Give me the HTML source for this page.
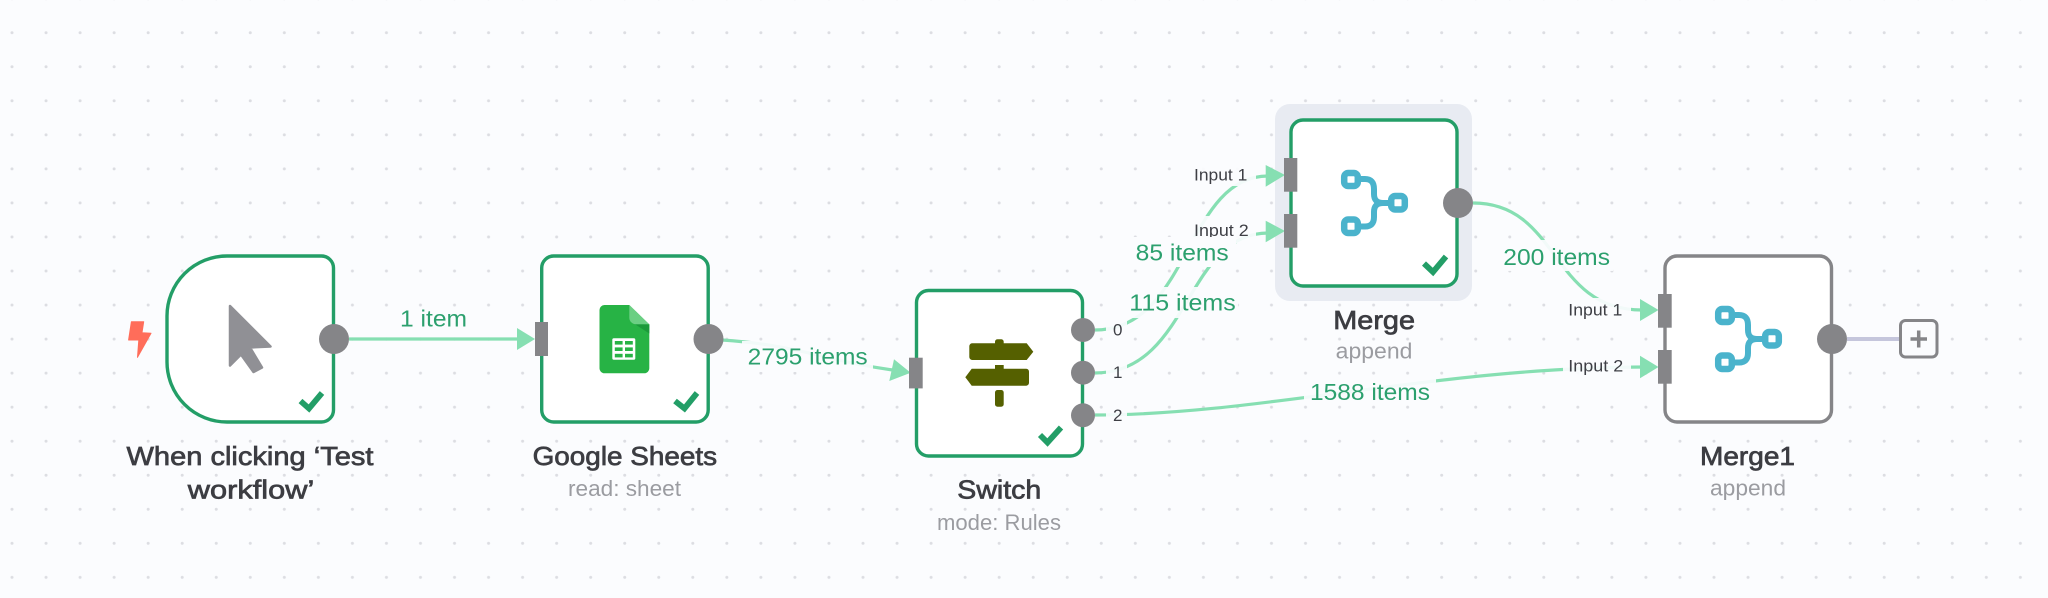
<!DOCTYPE html>
<html>
<head>
<meta charset="utf-8">
<title>Workflow</title>
<style>
html,body{margin:0;padding:0;width:2048px;height:598px;overflow:hidden;background:#fbfcfe}
svg{display:block}
text{font-family:"Liberation Sans",sans-serif}
.t{font-size:26px;font-weight:normal;fill:#3c3d42;stroke:#3c3d42;stroke-width:0.7px}
.s{font-size:22px;fill:#9b9ca1}
.e{font-size:23px;fill:#2ca06e}
.i{font-size:17px;fill:#3e3f45}
.bg{fill:#fbfcfe;fill-opacity:.93}
.edge{fill:none;stroke:#86dfb2;stroke-width:3.2}
.arrow{fill:#86dfb2}
.node{fill:#fff;stroke:#239e67;stroke-width:3.4}
.chk{fill:none;stroke:#239e67;stroke-width:5.8;stroke-linecap:butt;stroke-linejoin:miter}
.dot{fill:#858588}
.port{fill:#858588}
.mi{fill:#fff;stroke:#4ab3cc;stroke-width:6.5}
.ml{fill:none;stroke:#4ab3cc;stroke-width:6}
.sg{fill:#556000}
</style>
</head>
<body>
<svg width="2048" height="598" viewBox="0 0 2048 598" xmlns="http://www.w3.org/2000/svg">
<defs>
<pattern id="grid" x="-5" y="15.7" width="34.04" height="34.04" patternUnits="userSpaceOnUse">
<circle cx="17" cy="17" r="1.5" fill="#dcdde2"/>
</pattern>
<g id="mergeicon">
<path class="ml" d="M1735 315 H1739 Q1748 315 1748 325 V330 Q1748 339 1757 339 H1763"/>
<path class="ml" d="M1735 362.5 H1739 Q1748 362.5 1748 353 V348 Q1748 339 1757 339"/>
<rect class="mi" x="1718.2" y="309" width="13.6" height="13" rx="4"/>
<rect class="mi" x="1718.2" y="355.5" width="13.6" height="13.5" rx="4"/>
<rect class="mi" x="1765.2" y="332" width="13.6" height="13.5" rx="4"/>
</g>
</defs>
<rect width="2048" height="598" fill="#fbfcfe"/>
<rect width="2048" height="598" fill="url(#grid)"/>

<!-- highlight behind Merge -->
<rect x="1275" y="104" width="197" height="197" rx="15" fill="#e8ebf2"/>

<!-- edges -->
<path class="edge" d="M349 339 H522"/>
<path class="edge" d="M722 340 C800 345 830 362 893 370"/>
<path class="edge" d="M1095 330 C1190 330 1185 176 1268 176"/>
<path class="edge" d="M1095 373 C1190 373 1185 233 1268 233"/>
<path class="edge" d="M1095 415 C1260 415 1440 367 1645 367"/>
<path class="edge" d="M1473 203 C1560 203 1550 310 1642 310"/>
<path d="M1847 339 H1899" fill="none" stroke="#c5c6dc" stroke-width="4"/>

<!-- label backgrounds -->
<rect class="bg" x="742" y="341" width="131" height="31"/>
<rect class="bg" x="1106" y="317" width="21" height="23"/>
<rect class="bg" x="1106" y="361" width="21" height="24"/>
<rect class="bg" x="1106" y="405" width="21" height="22"/>
<rect class="bg" x="1190" y="160" width="66" height="26"/>
<rect class="bg" x="1190" y="216" width="66" height="27"/>
<rect class="bg" x="1563" y="298" width="68" height="26"/>
<rect class="bg" x="1563" y="355" width="68" height="25"/>
<rect class="bg" x="1500" y="240" width="113" height="31"/>
<rect class="bg" x="1304" y="378" width="132" height="27"/>
<rect class="bg" x="1127" y="287" width="111" height="31"/>

<!-- input labels (Input 2 clipped by the 85 items background) -->
<text class="i" x="1194" y="180.7" textLength="53.3" lengthAdjust="spacingAndGlyphs">Input 1</text>
<text class="i" x="1194" y="236" textLength="54.7" lengthAdjust="spacingAndGlyphs">Input 2</text>
<text class="i" x="1568.3" y="315.7" textLength="54" lengthAdjust="spacingAndGlyphs">Input 1</text>
<text class="i" x="1568.3" y="371.7" textLength="55" lengthAdjust="spacingAndGlyphs">Input 2</text>
<rect x="1133" y="237" width="103" height="30" fill="#fbfcfe"/>

<!-- edge labels -->
<text class="e" x="400" y="326.7" textLength="67" lengthAdjust="spacingAndGlyphs">1 item</text>
<text class="e" x="747.7" y="364.3" textLength="120" lengthAdjust="spacingAndGlyphs">2795 items</text>
<text class="e" x="1135.7" y="260.7" textLength="93" lengthAdjust="spacingAndGlyphs">85 items</text>
<text class="e" x="1129.3" y="310.7" textLength="106.4" lengthAdjust="spacingAndGlyphs">115 items</text>
<text class="e" x="1503.3" y="265" textLength="106.7" lengthAdjust="spacingAndGlyphs">200 items</text>
<text class="e" x="1310" y="400" textLength="120" lengthAdjust="spacingAndGlyphs">1588 items</text>
<text class="i" x="1113" y="335.7">0</text>
<text class="i" x="1113" y="378">1</text>
<text class="i" x="1113" y="421">2</text>

<!-- arrowheads -->
<polygon class="arrow" points="517,328 517,350 535,339"/>
<polygon class="arrow" points="894,359.3 889.3,381 910.7,372.7"/>
<polygon class="arrow" points="1265.7,165 1265.7,186.7 1285,175"/>
<polygon class="arrow" points="1265.7,220.7 1265.7,242.3 1285,231"/>
<polygon class="arrow" points="1640,299 1640,321 1658.5,310"/>
<polygon class="arrow" points="1640,355.7 1640,378.3 1658.5,367"/>

<!-- Trigger node -->
<path class="node" d="M227 256 H321.5 A12 12 0 0 1 333.5 268 V410 A12 12 0 0 1 321.5 422 H227 A60 60 0 0 1 167 362 V316 A60 60 0 0 1 227 256 Z"/>
<polygon points="131.4,321.7 143.7,321.7 142,332.7 151,333.3 137.5,357.3 138.8,340 128.6,340" fill="#ff6d5a" stroke="#ff6d5a" stroke-width="1" stroke-linejoin="round"/>
<polygon points="230,306 270.5,346.5 250,347.5 262,367.5 253.5,372 241,354.5 230,365.5" fill="#909095" stroke="#909095" stroke-width="2.5" stroke-linejoin="round"/>
<polyline class="chk" points="300.5,401 309,408.5 322,393"/>
<circle class="dot" cx="334" cy="339" r="15"/>

<!-- Google Sheets node -->
<rect class="node" x="541.7" y="256" width="166.5" height="166" rx="12"/>
<rect class="port" x="535" y="322" width="13" height="34"/>
<path d="M604.5 305 H629.3 L649.3 324.5 V368 A5 5 0 0 1 644.3 373.3 H604.5 A5 5 0 0 1 599.5 368 V310 A5 5 0 0 1 604.5 305 Z" fill="#27b345"/>
<path d="M635 324.3 H649.3 V333.5 Z" fill="#1b9a3a"/>
<path d="M629.3 305 L649.3 324.3 H636 A6.7 6.7 0 0 1 629.3 317.5 Z" fill="#6bcf83"/>
<rect x="612.3" y="338.3" width="23" height="21.5" rx="1.5" fill="#fff"/>
<g fill="#27b345">
<rect x="614.8" y="341" width="7.8" height="3.6"/><rect x="625" y="341" width="7.8" height="3.6"/>
<rect x="614.8" y="347.4" width="7.8" height="3.6"/><rect x="625" y="347.4" width="7.8" height="3.6"/>
<rect x="614.8" y="353.8" width="7.8" height="3.6"/><rect x="625" y="353.8" width="7.8" height="3.6"/>
</g>
<polyline class="chk" points="675,401 684.5,408.5 697,393"/>
<circle class="dot" cx="708.5" cy="339" r="15"/>

<!-- Switch node -->
<rect class="node" x="916.5" y="290.5" width="166" height="165.5" rx="12"/>
<rect class="port" x="909" y="357.7" width="13.7" height="30.7"/>
<g class="sg">
<rect x="995" y="339.3" width="8.7" height="8" rx="2.5"/>
<path d="M972 343.3 H1026.7 L1033.3 351.7 L1026.7 360 H972 A3 3 0 0 1 969.3 357 V346.3 A3 3 0 0 1 972 343.3 Z"/>
<rect x="995" y="365" width="8.7" height="8"/>
<path d="M1026.3 368.7 H971.7 L965.3 377.2 L971.7 385.7 H1026.3 A3 3 0 0 0 1029 382.7 V371.7 A3 3 0 0 0 1026.3 368.7 Z"/>
<rect x="995" y="390" width="8.7" height="16.7" rx="2.5"/>
</g>
<polyline class="chk" points="1040,435 1047.5,442.5 1061,427.5"/>
<circle class="dot" cx="1083" cy="330" r="12"/>
<circle class="dot" cx="1083" cy="372.7" r="12"/>
<circle class="dot" cx="1083" cy="415.3" r="12"/>

<!-- Merge node -->
<rect class="node" x="1291" y="120" width="166" height="166" rx="12"/>
<rect class="port" x="1284" y="158" width="13.3" height="33.7"/>
<rect class="port" x="1284" y="214" width="13.3" height="33.7"/>
<use href="#mergeicon" transform="translate(-374 -136)"/>
<polyline class="chk" points="1424,263.5 1433,272 1446,256.5"/>
<circle class="dot" cx="1458" cy="203" r="15"/>

<!-- Merge1 node -->
<rect x="1665" y="256" width="166.5" height="166" rx="12" fill="#fff" stroke="#858588" stroke-width="3.4"/>
<rect class="port" x="1658" y="294" width="13.7" height="33.7"/>
<rect class="port" x="1658" y="350" width="13.7" height="33.7"/>
<use href="#mergeicon"/>
<circle class="dot" cx="1832" cy="339" r="15"/>
<rect x="1900.5" y="320.5" width="36.5" height="36.5" rx="5" fill="#fbfcfe" stroke="#858588" stroke-width="3"/>
<path d="M1910.5 339 H1927 M1918.7 330.5 V347.5" fill="none" stroke="#858588" stroke-width="3.5"/>

<!-- node titles -->
<text class="t" x="126.5" y="465" textLength="247" lengthAdjust="spacingAndGlyphs">When clicking ‘Test</text>
<text class="t" x="187.8" y="498.3" textLength="126.5" lengthAdjust="spacingAndGlyphs">workflow’</text>
<text class="t" x="532.6" y="465" textLength="184.5" lengthAdjust="spacingAndGlyphs">Google Sheets</text>
<text class="s" x="568" y="496" textLength="113" lengthAdjust="spacingAndGlyphs">read: sheet</text>
<text class="t" x="957.3" y="498.3" textLength="84" lengthAdjust="spacingAndGlyphs">Switch</text>
<text class="s" x="937" y="530" textLength="124" lengthAdjust="spacingAndGlyphs">mode: Rules</text>
<text class="t" x="1333.3" y="329" textLength="81.7" lengthAdjust="spacingAndGlyphs">Merge</text>
<text class="s" x="1335.7" y="358.7" textLength="76.7" lengthAdjust="spacingAndGlyphs">append</text>
<text class="t" x="1700" y="465" textLength="95" lengthAdjust="spacingAndGlyphs">Merge1</text>
<text class="s" x="1710" y="495.3" textLength="76" lengthAdjust="spacingAndGlyphs">append</text>
</svg>
</body>
</html>
